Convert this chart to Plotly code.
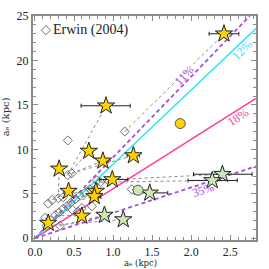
import math
import plotly.graph_objects as go

# Erwin (2004) measurements (diamonds)
erwin_x = [1.15, 0.42, 0.42, 0.47, 0.30, 0.22, 0.17, 0.79, 0.84, 1.24, 0.73, 0.60, 0.32, 0.15,
           0.13, 0.20, 0.26, 0.31, 0.36, 0.41, 0.46, 0.52, 0.58, 0.64, 0.70, 0.36, 0.55, 0.95, 0.48]
erwin_y = [12.0, 11.0, 7.1, 7.3, 4.5, 4.3, 3.9, 6.5, 6.3, 5.5, 3.6, 3.4, 1.4, 1.4,
           2.3, 2.0, 2.6, 2.9, 3.3, 3.6, 4.0, 4.4, 4.8, 5.1, 5.5, 4.6, 3.0, 6.4, 3.2]

# This work: yellow stars
ys_x = [2.42, 0.91, 0.69, 0.87, 1.26, 0.31, 0.43, 0.99, 0.78, 0.76, 0.60, 0.17]
ys_y = [23.0, 14.9, 9.8, 8.7, 9.3, 7.8, 5.3, 6.6, 5.3, 4.7, 2.5, 1.7]
ys_err_lo = [0.19, 0.32, 0.05, 0.06, 0.08, 0.03, 0.06, 0.16, 0.05, 0.05, 0.05, 0.04]
ys_err_hi = [0.19, 0.31, 0.05, 0.06, 0.08, 0.03, 0.06, 0.20, 0.05, 0.05, 0.05, 0.04]
ys_link = [0, 2, 2, 3, 3, 4, 5, 25, 21, 20, 16, 14]

# This work: green stars
gs_x = [0.89, 1.13, 1.47, 2.40, 2.27]
gs_y = [2.6, 2.1, 5.1, 7.2, 6.5]
gs_err_lo = [0.06, 0.05, 0.20, 0.37, 0.31]
gs_err_hi = [0.06, 0.05, 0.23, 0.38, 0.32]
gs_link = [12, 13, 9, 7, 8]

# circles
gc_x, gc_y = [1.86], [12.9]
grc_x, grc_y = [1.32], [5.4]

# reference ratio lines
ratios = [0.11, 0.12, 0.18, 0.35]
ratio_labels = ["11%", "12%", "18%", "35%"]
ratio_colors = ["#A64BE0", "#22E6F0", "#FF3C9A", "#A64BE0"]
ratio_dash = ["dash", "solid", "solid", "dash"]
label_x = [1.97, 2.60, 2.56, 2.13]

XMIN, XMAX, YMIN, YMAX = -0.025, 2.83, -0.2, 25.0

fig = go.Figure()

# connecting dotted lines
lx, ly = [], []
for sx, sy, k in list(zip(ys_x, ys_y, ys_link)) + list(zip(gs_x, gs_y, gs_link)):
    lx += [erwin_x[k], sx, None]
    ly += [erwin_y[k], sy, None]
fig.add_trace(go.Scatter(x=lx, y=ly, mode="lines",
                         line=dict(color="#8c8c8c", width=1, dash="dot"),
                         hoverinfo="skip", showlegend=False))

# ratio lines
for r, c, d in zip(ratios, ratio_colors, ratio_dash):
    xe = min(XMAX, YMAX * r)
    fig.add_trace(go.Scatter(x=[0, xe], y=[0, xe / r], mode="lines",
                             line=dict(color=c, width=1.5 if d == "solid" else 1.8,
                                       dash="4px,3px" if d == "dash" else "solid"),
                             showlegend=False))

fig.add_trace(go.Scatter(x=erwin_x, y=erwin_y, mode="markers",
                         marker=dict(symbol="diamond-open", size=7, color="#707070",
                                     line=dict(width=1)),
                         showlegend=False))

fig.add_trace(go.Scatter(x=ys_x, y=ys_y, mode="markers",
                         error_x=dict(type="data", symmetric=False, array=ys_err_hi,
                                      arrayminus=ys_err_lo, color="#222", thickness=1, width=2),
                         marker=dict(symbol="star", size=13, color="#FFD200",
                                     line=dict(color="#222", width=1)),
                         showlegend=False))

fig.add_trace(go.Scatter(x=gs_x, y=gs_y, mode="markers",
                         error_x=dict(type="data", symmetric=False, array=gs_err_hi,
                                      arrayminus=gs_err_lo, color="#222", thickness=1, width=2),
                         marker=dict(symbol="star", size=13, color="#CDE8B5",
                                     line=dict(color="#222", width=1)),
                         showlegend=False))

fig.add_trace(go.Scatter(x=gc_x, y=gc_y, mode="markers",
                         marker=dict(symbol="circle", size=10, color="#FFD200",
                                     line=dict(color="#555", width=1)),
                         showlegend=False))
fig.add_trace(go.Scatter(x=grc_x, y=grc_y, mode="markers",
                         marker=dict(symbol="circle", size=10, color="#CDE8B5",
                                     line=dict(color="#555", width=1)),
                         showlegend=False))

# legend entry
fig.add_trace(go.Scatter(x=[0.14], y=[23.4], mode="markers",
                         marker=dict(symbol="diamond-open", size=7, color="#707070"),
                         showlegend=False))
fig.add_annotation(x=0.21, y=23.4, text="Erwin (2004)", showarrow=False, xanchor="left",
                   font=dict(family="Liberation Serif", size=14, color="#222"))

# ratio labels
pxu = 223 / (XMAX - XMIN)
pyu = 231 / (YMAX - YMIN)
for r, lab, c, lxx, d in zip(ratios, ratio_labels, ratio_colors, label_x, ratio_dash):
    ang = math.degrees(math.atan((1 / r) * pyu / pxu))
    off = 6 if lab == "11%" else -6
    fig.add_annotation(x=lxx, y=lxx / r, text=lab, showarrow=False, textangle=-ang,
                       xshift=-off * math.sin(math.radians(ang)), yshift=off * math.cos(math.radians(ang)),
                       font=dict(family="Liberation Serif", size=12, color=c))

# axis titles, squeezed against the figure edges as in the reference
fig.add_annotation(xref="paper", yref="paper", x=0.48, y=0, yshift=-29, yanchor="bottom",
                   text="aₑ (kpc)", showarrow=False, borderpad=0,
                   font=dict(family="DejaVu Serif", size=8.5, color="#222"))
fig.add_annotation(xref="paper", yref="paper", x=0, xshift=-21, y=0.55, xanchor="right",
                   text="aₑ (kpc)", textangle=-90, showarrow=False, borderpad=0,
                   font=dict(family="DejaVu Serif", size=10, color="#222"))

axis_common = dict(showline=True, mirror="allticks", linecolor="#8a8a8a", linewidth=2,
                   ticks="inside", tickcolor="#8a8a8a", tickwidth=1, ticklen=5,
                   showgrid=False, zeroline=False,
                   tickfont=dict(family="Liberation Serif", size=12, color="#222"))
fig.update_xaxes(range=[XMIN, XMAX], tickvals=[0, 0.5, 1.0, 1.5, 2.0, 2.5],
                 ticktext=["0.0", "0.5", "1.0", "1.5", "2.0", "2.5"],
                 minor=dict(ticks="inside", tickvals=[i / 10 for i in range(0, 29)],
                            ticklen=3, tickcolor="#8a8a8a"),
                 **axis_common)
fig.update_yaxes(range=[YMIN, YMAX], tickvals=[0, 5, 10, 15, 20, 25],
                 minor=dict(ticks="inside", tickvals=list(range(0, 26)),
                            ticklen=3, tickcolor="#8a8a8a"),
                 **axis_common)

fig.update_layout(width=269, height=269, margin=dict(l=33, r=13, t=9, b=29),
                  plot_bgcolor="white", paper_bgcolor="white", hovermode=False)

fig.write_html("out.html", config={"displayModeBar": False, "staticPlot": True},
               post_script="document.body.style.margin='0';document.body.style.overflow='hidden';")
